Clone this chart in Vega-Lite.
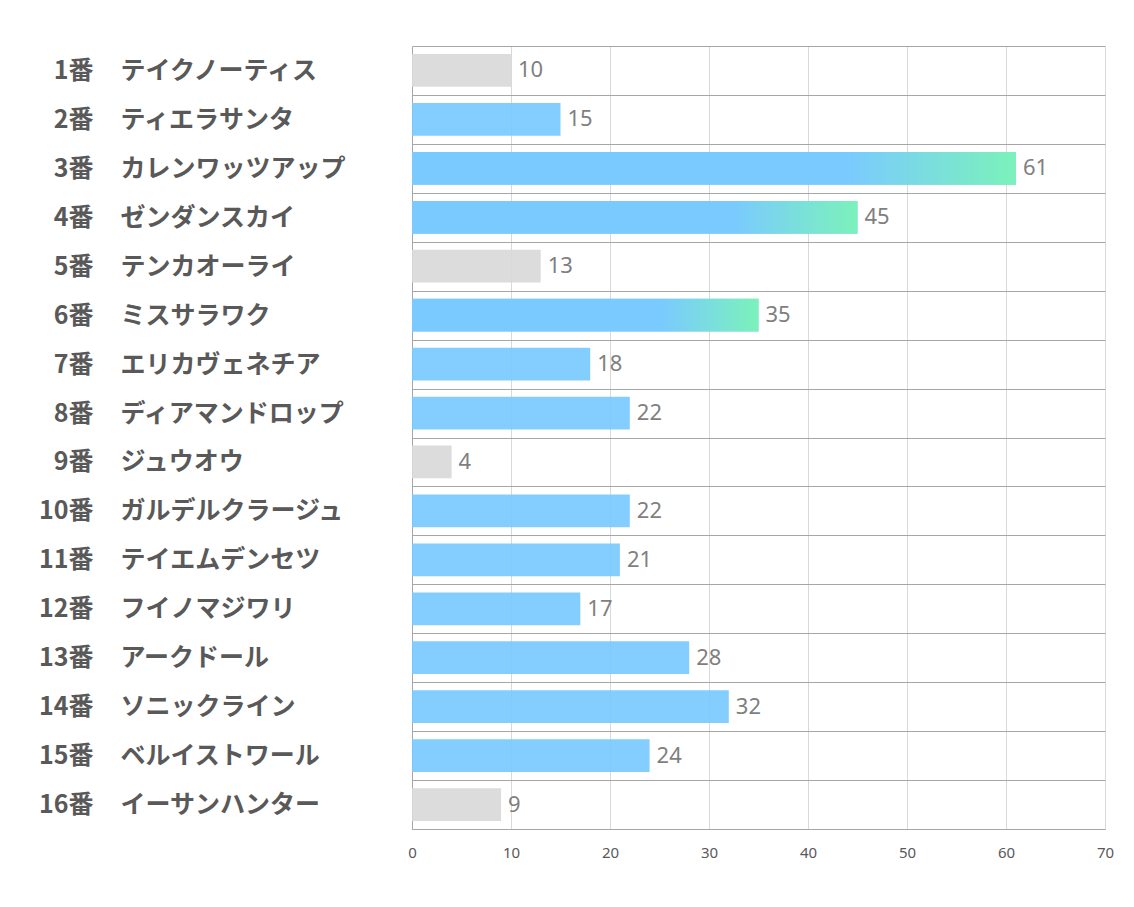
{
  "$schema": "https://vega.github.io/schema/vega-lite/v6.json",
  "autosize": "none",
  "width": 693,
  "height": 783,
  "padding": {"left": 412, "top": 46, "right": 29, "bottom": 78},
  "background": "white",
  "config": {"view": {"stroke": null}},
  "data": {"values": [
    {"num": "1番", "name": "テイクノーティス", "value": 10, "kind": "gray"},
    {"num": "2番", "name": "ティエラサンタ", "value": 15, "kind": "blue"},
    {"num": "3番", "name": "カレンワッツアップ", "value": 61, "kind": "grad"},
    {"num": "4番", "name": "ゼンダンスカイ", "value": 45, "kind": "grad"},
    {"num": "5番", "name": "テンカオーライ", "value": 13, "kind": "gray"},
    {"num": "6番", "name": "ミスサラワク", "value": 35, "kind": "grad"},
    {"num": "7番", "name": "エリカヴェネチア", "value": 18, "kind": "blue"},
    {"num": "8番", "name": "ディアマンドロップ", "value": 22, "kind": "blue"},
    {"num": "9番", "name": "ジュウオウ", "value": 4, "kind": "gray"},
    {"num": "10番", "name": "ガルデルクラージュ", "value": 22, "kind": "blue"},
    {"num": "11番", "name": "テイエムデンセツ", "value": 21, "kind": "blue"},
    {"num": "12番", "name": "フイノマジワリ", "value": 17, "kind": "blue"},
    {"num": "13番", "name": "アークドール", "value": 28, "kind": "blue"},
    {"num": "14番", "name": "ソニックライン", "value": 32, "kind": "blue"},
    {"num": "15番", "name": "ベルイストワール", "value": 24, "kind": "blue"},
    {"num": "16番", "name": "イーサンハンター", "value": 9, "kind": "gray"}
  ]},
  "layer": [
    {
      "encoding": {
        "y": {"field": "name", "type": "nominal", "sort": null,
              "scale": {"paddingInner": 0, "paddingOuter": 0},
              "axis": {"title": null, "orient": "left", "labelAlign": "left", "labelPadding": 292,
                       "ticks": false, "tickSize": 0, "tickBand": "extent", "labelLimit": 400,
                       "grid": true, "gridColor": "#a6a6a6", "gridWidth": 1,
                       "domain": true, "domainColor": "#a6a6a6",
                       "labelFont": "Noto Sans CJK JP", "labelFontWeight": "bold", "labelFontSize": 25,
                       "labelColor": "#595959", "labelBaseline": "middle"}},
        "x": {"field": "value", "type": "quantitative",
              "scale": {"domain": [0, 70], "nice": false},
              "axis": {"title": null, "values": [0, 10, 20, 30, 40, 50, 60, 70],
                       "grid": true, "gridColor": "#d9d9d9", "ticks": false, "tickSize": 0,
                       "domainColor": "#a6a6a6", "labelPadding": 16, "labelFlush": false,
                       "labelFont": "Noto Sans", "labelFontSize": 15, "labelColor": "#595959"}}
      },
      "layer": [
        {
          "mark": {"type": "bar", "opacity": 0.92, "height": {"band": 0.67}},
          "encoding": {
            "color": {"field": "kind", "type": "nominal", "legend": null,
                      "scale": {"domain": ["gray", "blue", "grad"], "range": ["#d9d9d9", "#79caff", "#79caff"]}}
          }
        },
        {
          "transform": [{"filter": "datum.kind === 'grad'"}],
          "mark": {"type": "bar", "opacity": 0.92, "height": {"band": 0.67},
                   "color": {"gradient": "linear", "x1": 0, "x2": 1, "y1": 0, "y2": 0,
                             "stops": [{"offset": 0, "color": "#79caff"},
                                       {"offset": 0.72, "color": "#79caff"},
                                       {"offset": 1, "color": "#7af5b5"}]}}
        }
      ]
    },
    {
      "mark": {"type": "text", "align": "left", "baseline": "middle", "dx": 7,
               "font": "Noto Sans", "fontSize": 22, "color": "#7f7f7f"},
      "encoding": {
        "y": {"field": "num", "type": "nominal", "sort": null,
              "axis": {"title": null, "orient": "left", "labelAlign": "right", "labelPadding": 319,
                       "ticks": false, "tickSize": 0, "domain": false, "grid": false,
                       "labelFont": "Noto Sans CJK JP", "labelFontWeight": "bold", "labelFontSize": 25,
                       "labelColor": "#595959", "labelBaseline": "middle"}},
        "x": {"field": "value", "type": "quantitative", "scale": {"domain": [0, 70], "nice": false}},
        "text": {"field": "value", "type": "quantitative"}
      }
    }
  ],
  "resolve": {"scale": {"y": "independent"}, "axis": {"y": "independent"}}
}
